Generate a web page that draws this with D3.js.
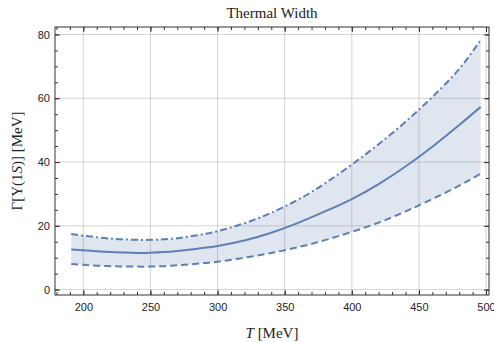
<!DOCTYPE html>
<html>
<head>
<meta charset="utf-8">
<script src="https://cdn.jsdelivr.net/npm/d3@7"></script>
<style>
body { margin: 0; background: #fff; }
.tick text { font-family: "Liberation Sans", Arial, sans-serif; font-size: 11px; fill: #222; }
.serif { font-family: "Liberation Serif", "DejaVu Serif", serif; fill: #222; }
</style>
</head>
<body>
<div id="chart"></div>
<script>
// temperatures (MeV)
var temps   = [191, 200, 210, 220, 230, 240, 250, 260, 270, 280, 290, 300, 320, 340, 360, 380, 400, 420, 440, 460, 480, 496];
// central width
var central = [12.6, 12.3, 12.0, 11.75, 11.6, 11.5, 11.55, 11.75, 12.1, 12.55, 13.1, 13.7, 15.4, 17.8, 20.9, 24.5, 28.4, 33.1, 38.6, 44.8, 51.6, 57.3];
// upper bound (dot-dashed)
var upper   = [17.4, 16.9, 16.4, 16.0, 15.75, 15.6, 15.6, 15.75, 16.1, 16.7, 17.4, 18.3, 20.8, 24.1, 28.2, 33.3, 39.2, 45.6, 52.6, 60.4, 69.2, 78.3];
// lower bound (dashed)
var lower   = [8.0, 7.75, 7.5, 7.35, 7.25, 7.2, 7.2, 7.35, 7.6, 7.9, 8.3, 8.75, 10.0, 11.5, 13.3, 15.5, 18.1, 21.0, 24.5, 28.4, 32.6, 36.4];

var xTicks = [200, 250, 300, 350, 400, 450, 500];
var yTicks = [0, 20, 40, 60, 80];

var w = 494, h = 342;
var pL = 55, pR = 489, pT = 27, pB = 295;
var col = "#5e81b5";

var svg = d3.select("#chart").append("svg")
    .attr("width", w)
    .attr("height", h);

var x = d3.scaleLinear().domain([178.9, 502.2]).range([pL, pR]);
var y = d3.scaleLinear().domain([-1.7, 82.35]).range([pB, pT]);

// grid
svg.append("g").selectAll("line")
    .data(xTicks)
    .enter().append("line")
    .attr("x1", d => x(d)).attr("x2", d => x(d))
    .attr("y1", pT).attr("y2", pB)
    .attr("stroke", "#d3d3d3").attr("stroke-width", 1);
svg.append("g").selectAll("line")
    .data(yTicks)
    .enter().append("line")
    .attr("x1", pL).attr("x2", pR)
    .attr("y1", d => y(d)).attr("y2", d => y(d))
    .attr("stroke", "#d3d3d3").attr("stroke-width", 1);

var rows = temps.map(function(t, i){
    return {t: t, c: central[i], u: upper[i], l: lower[i]};
});

// band
var area = d3.area()
    .x(d => x(d.t))
    .y0(d => y(d.l))
    .y1(d => y(d.u))
    .curve(d3.curveNatural);
svg.append("path")
    .datum(rows)
    .attr("d", area)
    .attr("fill", col)
    .attr("fill-opacity", 0.2);

function lineOf(key){
    return d3.line()
        .x(d => x(d.t))
        .y(d => y(d[key]))
        .curve(d3.curveNatural);
}

svg.append("path").datum(rows)
    .attr("d", lineOf("c"))
    .attr("fill", "none").attr("stroke", col).attr("stroke-width", 2);
svg.append("path").datum(rows)
    .attr("d", lineOf("u"))
    .attr("fill", "none").attr("stroke", col).attr("stroke-width", 2)
    .attr("stroke-dasharray", "7,3,2,3");
svg.append("path").datum(rows)
    .attr("d", lineOf("l"))
    .attr("fill", "none").attr("stroke", col).attr("stroke-width", 2)
    .attr("stroke-dasharray", "7,4");

// axes, ticks pointing inward
var xMinor = d3.range(180, 501, 10);
var yMinor = d3.range(0, 81, 5);

function addAxis(axis, tx, ty){
    var g = svg.append("g")
        .attr("transform", "translate(" + tx + "," + ty + ")")
        .call(axis);
    g.select(".domain").remove();
    g.selectAll("line").attr("stroke", "#333");
    return g;
}

addAxis(d3.axisBottom(x).tickValues(xMinor).tickSize(-3).tickFormat(""), 0, pB);
addAxis(d3.axisBottom(x).tickValues(xTicks).tickSize(-5).tickPadding(8), 0, pB);
addAxis(d3.axisTop(x).tickValues(xMinor).tickSize(-3).tickFormat(""), 0, pT);
addAxis(d3.axisTop(x).tickValues(xTicks).tickSize(-5).tickFormat(""), 0, pT);
addAxis(d3.axisLeft(y).tickValues(yMinor).tickSize(-3).tickFormat(""), pL, 0);
addAxis(d3.axisLeft(y).tickValues(yTicks).tickSize(-5).tickPadding(5), pL, 0);
addAxis(d3.axisRight(y).tickValues(yMinor).tickSize(-3).tickFormat(""), pR, 0);
addAxis(d3.axisRight(y).tickValues(yTicks).tickSize(-5).tickFormat(""), pR, 0);

// frame
svg.append("rect")
    .attr("x", pL).attr("y", pT)
    .attr("width", pR - pL).attr("height", pB - pT)
    .attr("fill", "none").attr("stroke", "#333").attr("stroke-width", 1);

// title + labels
svg.append("text")
    .attr("class", "serif")
    .attr("x", (pL + pR) / 2).attr("y", 18)
    .attr("text-anchor", "middle")
    .style("font-size", "15px")
    .text("Thermal Width");

var xl = svg.append("text")
    .attr("class", "serif")
    .attr("x", (pL + pR) / 2).attr("y", 338)
    .attr("text-anchor", "middle")
    .style("font-size", "15px");
xl.append("tspan").style("font-style", "italic").text("T");
xl.append("tspan").text(" [MeV]");

var yl = svg.append("text")
    .attr("class", "serif")
    .attr("transform", "translate(22," + ((pT + pB) / 2) + ") rotate(-90)")
    .attr("text-anchor", "middle")
    .style("font-size", "15px");
yl.append("tspan").text("Γ[Υ(1");
yl.append("tspan").style("font-style", "italic").text("S");
yl.append("tspan").text(")] [MeV]");
</script>
</body>
</html>
